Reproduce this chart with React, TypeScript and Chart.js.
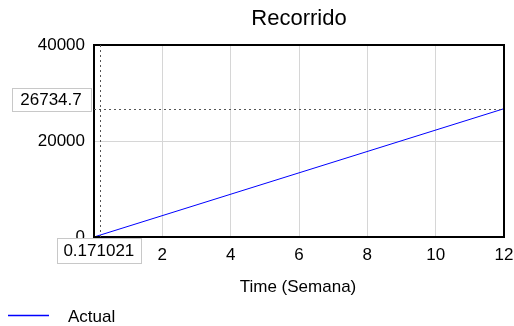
import React, { useEffect, useRef } from "react";
import { Chart, registerables } from "chart.js";

Chart.register(...registerables);

const titleText = "Recorrido";
const xAxisTitle = "Time (Semana)";
const seriesName = "Actual";
const times = [0, 12];
const recorrido = [0, 26734.7];
const cursorX = 0.171021;
const cursorY = 26734.7;
const cursorXLabel = "0.171021";
const cursorYLabel = "26734.7";
const xTicks = [0, 2, 4, 6, 8, 10, 12];
const yTicks = [0, 20000, 40000];

const FONT = "'Liberation Sans', Arial, sans-serif";

const decor = {
  id: "decor",
  afterDraw(chart: any) {
    const ctx = chart.ctx;
    const a = chart.chartArea;
    const xs = chart.scales.x;
    const ys = chart.scales.y;
    ctx.save();
    // frame
    ctx.strokeStyle = "#000";
    ctx.lineWidth = 2;
    ctx.strokeRect(a.left, a.top, a.right - a.left, a.bottom - a.top);
    // dotted cursor lines
    const px = xs.getPixelForValue(cursorX);
    const py = ys.getPixelForValue(cursorY);
    ctx.strokeStyle = "#555";
    ctx.lineWidth = 1;
    ctx.setLineDash([2, 3]);
    ctx.beginPath();
    ctx.moveTo(Math.round(px) + 0.5, a.top);
    ctx.lineTo(Math.round(px) + 0.5, a.bottom);
    ctx.moveTo(a.left, Math.round(py) + 0.5);
    ctx.lineTo(a.right, Math.round(py) + 0.5);
    ctx.stroke();
    ctx.setLineDash([]);
    // boxes
    ctx.font = "17px " + FONT;
    ctx.textAlign = "center";
    ctx.textBaseline = "middle";
    const box = (cx: number, cy: number, w: number, h: number, t: string) => {
      const x0 = Math.round(cx - w / 2) + 0.5;
      const y0 = Math.round(cy - h / 2) + 0.5;
      ctx.fillStyle = "#fff";
      ctx.fillRect(x0, y0, w, h);
      ctx.strokeStyle = "#c8c8c8";
      ctx.strokeRect(x0, y0, w, h);
      ctx.fillStyle = "#000";
      ctx.fillText(t, cx, cy + 1);
    };
    box(a.left - 43, py - 9, 79, 23, cursorYLabel);
    box(px - 1, a.bottom + 13, 84, 25, cursorXLabel);
    // title
    ctx.fillStyle = "#000";
    ctx.font = "22px " + FONT;
    ctx.fillText(titleText, 299, 19);
    // axis title
    ctx.font = "17px " + FONT;
    ctx.fillText(xAxisTitle, 298, 287);
    // legend
    ctx.strokeStyle = "#0000ff";
    ctx.lineWidth = 1.5;
    ctx.beginPath();
    ctx.moveTo(8, 315.5);
    ctx.lineTo(49, 315.5);
    ctx.stroke();
    ctx.textAlign = "left";
    ctx.fillText(seriesName, 68, 317);
    ctx.restore();
  },
};

export default function App() {
  const ref = useRef<HTMLCanvasElement>(null);
  useEffect(() => {
    document.body.style.margin = "0";
    Chart.defaults.font.family = FONT;
    const chart = new Chart(ref.current!, {
      type: "line",
      data: {
        datasets: [
          {
            label: seriesName,
            data: times.map((t, i) => ({ x: t, y: recorrido[i] })),
            borderColor: "#0000ff",
            borderWidth: 1,
            pointRadius: 0,
            fill: false,
            tension: 0,
          },
        ],
      },
      options: {
        animation: false,
        responsive: false,
        layout: { padding: { top: 45, right: 10, left: 0, bottom: 0 } },
        plugins: {
          legend: { display: false },
          title: { display: false },
          tooltip: { enabled: false },
        },
        scales: {
          x: {
            type: "linear",
            min: 0,
            max: 12,
            afterFit: (s: any) => {
              s.height = 89;
              s.paddingLeft = 0;
              s.paddingRight = 0;
            },
            afterBuildTicks: (s: any) => {
              s.ticks = xTicks.map((v) => ({ value: v }));
            },
            ticks: {
              color: "#000",
              font: { size: 17 },
              padding: 8,
              maxRotation: 0,
              callback: (v: any) => (v === 0 ? "" : String(v)),
            },
            grid: { color: "#d6d6d6", lineWidth: 1, drawTicks: false },
            border: { display: false },
          },
          y: {
            type: "linear",
            min: 0,
            max: 40000,
            afterFit: (s: any) => {
              s.width = 94;
              s.paddingTop = 0;
              s.paddingBottom = 0;
            },
            afterBuildTicks: (s: any) => {
              s.ticks = yTicks.map((v) => ({ value: v }));
            },
            ticks: {
              color: "#000",
              font: { size: 17 },
              padding: 9,
              callback: (v: any) => String(v),
            },
            grid: { color: "#d6d6d6", lineWidth: 1, drawTicks: false },
            border: { display: false },
          },
        },
      },
      plugins: [decor],
    });
    return () => chart.destroy();
  }, []);
  return (
    <div style={{ position: "fixed", left: 0, top: 0, width: 514, height: 326, background: "#fff" }}>
      <canvas ref={ref} width={514} height={326} style={{ width: 514, height: 326 }} />
    </div>
  );
}
